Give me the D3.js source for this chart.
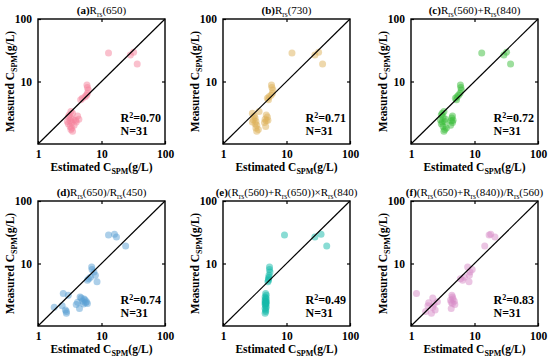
<!DOCTYPE html>
<html><head><meta charset="utf-8">
<script src="https://cdn.jsdelivr.net/npm/d3@7"></script>
<style>body{margin:0;background:#fff}svg{display:block}text{font-family:"Liberation Serif","Times New Roman",serif}</style>
</head><body>
<svg id="c" width="550" height="362"></svg>
<script>
// Measured C_SPM (g/L), shared by all six panels
const measured = [28.5,29.5,26.5,19,8.8,8.0,7.3,6.5,6.0,5.7,5.4,5.1,3.3,3.1,2.9,2.8,2.7,2.6,2.5,2.45,2.4,2.35,2.3,2.25,2.2,2.1,2.0,1.9,1.8,1.7,1.6];
// Estimated C_SPM per model
const estA = [12.9,32,28.5,36.5,5.9,6.0,6.2,6.0,5.8,5.5,5.0,4.7,3.3,3.5,3.1,4.2,3.0,3.3,4.4,3.6,3.9,3.2,2.9,4.0,3.4,3.0,3.7,3.2,3.4,3.3,3.5];
const estB = [12.2,32,28,37,5.8,5.9,6.1,6.0,5.7,5.3,5.0,5.2,3.7,2.9,4.8,3.1,5.0,3.2,4.6,3.0,5.1,4.8,3.3,2.9,4.5,3.2,3.4,4.7,3.3,3.6,3.4];
const estC = [13,32,29,37,6.0,6.1,6.2,5.9,5.6,5.3,5.0,5.2,3.3,3.1,3.0,4.5,3.2,4.4,3.5,2.9,4.6,4.3,3.4,3.1,4.5,3.0,4.2,3.2,3.6,3.4,3.3];
const estD = [12.9,16,17.2,24,7.0,7.1,7.6,8.0,6.7,6.3,6.0,8.5,2.5,3.0,4.6,4.8,5.3,5.5,5.0,5.8,4.2,5.6,6.0,5.2,4.0,2.4,1.8,4.5,2.7,2.8,2.8];
const estE = [9.3,35,28,43,5.4,5.4,5.5,5.3,5.3,5.2,5.2,5.1,4.7,4.8,4.6,4.7,4.8,4.6,4.7,4.8,4.6,4.7,4.8,4.7,4.6,4.7,4.8,4.6,4.7,4.7,4.6];
const estF = [17,18,21,14.5,7.8,9.2,8.5,8.3,6.9,6.0,6.5,8.2,1.22,4.4,4.5,2.2,4.6,4.2,4.8,2.6,4.3,1.9,4.5,2.3,4.9,1.85,2.2,4.3,2.4,1.7,2.1];
const titles = ["(a)R_rs(650)","(b)R_rs(730)","(c)R_rs(560)+R_rs(840)","(d)R_rs(650)/R_rs(450)","(e)(R_rs(560)+R_rs(650))×R_rs(840)","(f)(R_rs(650)+R_rs(840))/R_rs(560)"];
const r2Labels = ["0.70","0.71","0.72","0.74","0.49","0.83"];
const nLabel = "31";
const colors = ["rgb(245,130,155)","rgb(222,178,90)","rgb(60,190,60)","rgb(90,160,212)","rgb(20,185,170)","rgb(215,140,200)"];
const tickValues = [1,10,100];

const panels = [estA,estB,estC,estD,estE,estF];
const svg = d3.select("#c");
const colX = [38,223,411], rowY = [19,201];
const W = 127, H = 125;

function addRich(sel, str){
  const m = str.match(/^(\([a-f]\))(.*)$/);
  sel.append("tspan").attr("font-weight","bold").text(m[1]);
  const parts = m[2].split(/(_[a-z]+)/).filter(p=>p);
  let shift = 0;
  parts.forEach(p=>{
    if(p[0]==="_"){
      sel.append("tspan").attr("font-size","7.5px").attr("dy",2.5-shift).text(p.slice(1));
      shift = 2.5;
    } else {
      sel.append("tspan").attr("dy",-shift).text(p);
      shift = 0;
    }
  });
}

panels.forEach((est,i)=>{
  const ox = colX[i%3], oy = rowY[Math.floor(i/3)];
  const g = svg.append("g").attr("transform",`translate(${ox},${oy})`);
  const x = d3.scaleLog().domain([1,100]).range([0,W]);
  const y = d3.scaleLog().domain([1,100]).range([H,0]);

  g.append("g").selectAll("circle").data(est.map((e,k)=>[e,measured[k]])).join("circle")
    .attr("cx",d=>x(d[0])).attr("cy",d=>y(d[1])).attr("r",3.5)
    .attr("fill",colors[i]).attr("fill-opacity",0.5);

  g.append("line").attr("x1",x(1)).attr("y1",y(1)).attr("x2",x(100)).attr("y2",y(100))
    .attr("stroke","#000").attr("stroke-width",1.2);

  const fmt = d=>String(d);
  const ax = g.append("g").attr("transform",`translate(0,${H})`)
    .call(d3.axisBottom(x).tickValues(tickValues).tickFormat(fmt).tickSizeInner(-3).tickSizeOuter(0).tickPadding(6));
  const axT = g.append("g").call(d3.axisTop(x).tickValues([10]).tickFormat("").tickSizeInner(-3).tickSizeOuter(0));
  const ay = g.append("g")
    .call(d3.axisLeft(y).tickValues([10,100]).tickFormat(fmt).tickSizeInner(-3).tickSizeOuter(0).tickPadding(6));
  const ayR = g.append("g").attr("transform",`translate(${W},0)`)
    .call(d3.axisRight(y).tickValues([10]).tickFormat("").tickSizeInner(-3).tickSizeOuter(0));
  [ax,axT,ay,ayR].forEach(a=>{
    a.select(".domain").remove();
    a.selectAll("line").attr("stroke","#000").attr("stroke-width",1.2);
    a.selectAll("text").attr("font-family","Liberation Serif").attr("font-weight","bold").attr("font-size","11.5px").attr("fill","#000");
  });
  axT.selectAll("text").remove();
  ayR.selectAll("text").remove();
  g.append("rect").attr("width",W).attr("height",H).attr("fill","none").attr("stroke","#000").attr("stroke-width",1.4);

  const t = g.append("text").attr("x",W/2).attr("y",-5).attr("text-anchor","middle").attr("font-size","11px");
  addRich(t, titles[i]);

  const xl = g.append("text").attr("x",W/2).attr("y",H+27).attr("text-anchor","middle")
    .attr("font-size","11.5px").attr("font-weight","bold");
  xl.append("tspan").text("Estimated C");
  xl.append("tspan").attr("font-size","8px").attr("dy",2.5).text("SPM");
  xl.append("tspan").attr("dy",-2.5).text("(g/L)");
  const yl = g.append("text").attr("transform",`translate(-24,${H/2}) rotate(-90)`).attr("text-anchor","middle")
    .attr("font-size","11.5px").attr("font-weight","bold");
  yl.append("tspan").text("Measured C");
  yl.append("tspan").attr("font-size","8px").attr("dy",2.5).text("SPM");
  yl.append("tspan").attr("dy",-2.5).text("(g/L)");

  const s = g.append("text").attr("x",W*0.65).attr("y",H*0.82).attr("font-size","12px").attr("font-weight","bold");
  s.append("tspan").text("R");
  s.append("tspan").attr("font-size","8px").attr("dy",-4).text("2");
  s.append("tspan").attr("dy",4).text("="+r2Labels[i]);
  g.append("text").attr("x",W*0.65).attr("y",H*0.82+13).attr("font-size","12px").attr("font-weight","bold").text("N="+nLabel);
});
</script>
</body></html>
